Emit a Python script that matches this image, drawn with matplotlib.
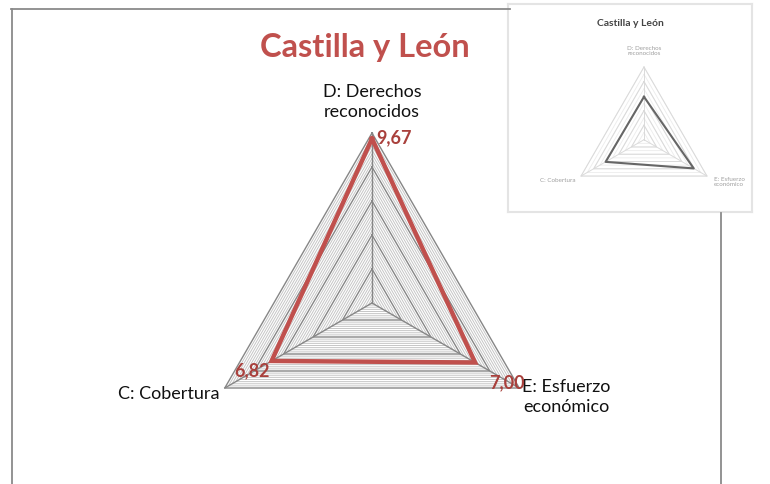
import numpy as np
import matplotlib
matplotlib.use("Agg")
import matplotlib.pyplot as plt
from matplotlib.lines import Line2D

plt.rcParams['font.family'] = ['Lato', 'DejaVu Sans']

# ---------------- data ----------------
title = "Castilla y León"
categories = ["D: Derechos\nreconocidos", "E: Esfuerzo\neconómico", "C: Cobertura"]
values = [9.67, 7.00, 6.82]
value_labels = ["9,67", "7,00", "6,82"]
axis_max = 10
major_step = 2
minor_step = 0.25

inset_title = "Castilla y León"
inset_categories = ["D: Derechos\nreconocidos", "E: Esfuerzo\neconómico", "C: Cobertura"]
inset_values = [5.9, 7.9, 6.1]

RED = "#C0504D"
DARKRED = "#A9403C"

W, H = 770, 485
fig = plt.figure(figsize=(W / 100, H / 100), dpi=100)
fig.patch.set_facecolor("white")

n = len(categories)
ang = np.deg2rad(np.arange(n) * 360.0 / n)  # clockwise from top


def xy(r, a):
    return r * np.sin(a), r * np.cos(a)


def ring(ax, r, **kw):
    a = np.append(ang, ang[0])
    x, y = xy(r, a)
    ax.plot(x, y, **kw)


# ---------------- main radar ----------------
cx, cy, R = 372, 304, 170.0
s = R / axis_max
ax = fig.add_axes([0, 0, 1, 1])
ax.set_xlim(-cx / s, (W - cx) / s)
ax.set_ylim(-(H - cy) / s, cy / s)
ax.axis("off")

for r in np.arange(minor_step, axis_max + 1e-9, minor_step):
    if abs(r / major_step - round(r / major_step)) < 1e-6:
        continue
    ring(ax, r, color="#c6c6c6", lw=0.7, zorder=1)
for r in np.arange(major_step, axis_max + 1e-9, major_step):
    ring(ax, r, color="#868686", lw=1.0, zorder=2)
for a in ang:
    x, y = xy(axis_max, a)
    ax.plot([0, x], [0, y], color="#868686", lw=1.0, zorder=2)

vx, vy = xy(np.array(values), ang)
ax.plot(np.append(vx, vx[0]), np.append(vy, vy[0]), color=RED, lw=3.2,
        solid_joinstyle="miter", zorder=4)

label_offsets = [(4, 2), (14, -19), (-2, -9)]
label_ha = ["left", "left", "right"]
for i in range(n):
    ax.annotate(value_labels[i], (vx[i], vy[i]), xytext=label_offsets[i],
                textcoords="offset pixels", ha=label_ha[i], va="center",
                fontsize=13, fontweight="bold", color=DARKRED, zorder=5)

# category labels
ox, oy = xy(axis_max, ang)
ax.annotate(categories[0], (ox[0], oy[0]), xytext=(0, 32), textcoords="offset pixels",
            ha="center", va="center", fontsize=13, color="#111111", linespacing=1.35)
ax.annotate(categories[1], (ox[1], oy[1]), xytext=(47, -8), textcoords="offset pixels",
            ha="center", va="center", fontsize=13, color="#111111", linespacing=1.35)
ax.annotate(categories[2], (ox[2], oy[2]), xytext=(-5, -5), textcoords="offset pixels",
            ha="right", va="center", fontsize=13, color="#111111", linespacing=1.35)

fig.text(365 / W, 1 - 48 / H, title, ha="center", va="center", fontsize=23.5,
         fontweight="bold", color=RED)

# outer frame
fc = "#8a8a8a"
fig.add_artist(Line2D([11.5 / W, 11.5 / W], [0, 1 - 9.5 / H], transform=fig.transFigure, color=fc, lw=1.3))
fig.add_artist(Line2D([11 / W, 510 / W], [1 - 9.5 / H, 1 - 9.5 / H], transform=fig.transFigure, color=fc, lw=1.3))
fig.add_artist(Line2D([721 / W, 721 / W], [0, 1 - 214 / H], transform=fig.transFigure, color=fc, lw=1.3))

# ---------------- inset thumbnail ----------------
ix0, iy0, ix1, iy1 = 508, 5, 752, 213
icx, icy, iR = 644, 140.7, 72.7
isc = iR / axis_max
iax = fig.add_axes([ix0 / W, 1 - iy1 / H, (ix1 - ix0) / W, (iy1 - iy0) / H])
iax.set_xlim(-(icx - ix0) / isc, (ix1 - icx) / isc)
iax.set_ylim(-(iy1 - icy) / isc, (icy - iy0) / isc)
iax.set_xticks([]); iax.set_yticks([])
iax.set_facecolor("white")
for sp in iax.spines.values():
    sp.set_color("#e4e4e4"); sp.set_linewidth(1.5)

for r in np.arange(1, axis_max + 1e-9, 1):
    ring(iax, r, color="#ececec", lw=0.6, zorder=1)
for r in np.arange(major_step, axis_max + 1e-9, major_step):
    ring(iax, r, color="#dadada", lw=0.7, zorder=2)
for a in ang:
    x, y = xy(axis_max, a)
    iax.plot([0, x], [0, y], color="#dadada", lw=0.7, zorder=2)
ivx, ivy = xy(np.array(inset_values), ang)
iax.plot(np.append(ivx, ivx[0]), np.append(ivy, ivy[0]), color="#666666", lw=1.5, zorder=3)

iox, ioy = xy(axis_max, ang)
iax.annotate(inset_categories[0], (iox[0], ioy[0]), xytext=(0, 17), textcoords="offset pixels",
             ha="center", va="center", fontsize=4.5, color="#a0a0a0")
iax.annotate(inset_categories[1], (iox[1], ioy[1]), xytext=(22, -5), textcoords="offset pixels",
             ha="center", va="center", fontsize=4.5, color="#a0a0a0")
iax.annotate(inset_categories[2], (iox[2], ioy[2]), xytext=(-6, -3), textcoords="offset pixels",
             ha="right", va="center", fontsize=4.5, color="#a0a0a0")
iax.text(0.5, 1 - (24 - iy0) / (iy1 - iy0), inset_title, transform=iax.transAxes,
         ha="center", va="center", fontsize=7.5, fontweight="bold", color="#444444")

fig.savefig("out.png", dpi=100)
